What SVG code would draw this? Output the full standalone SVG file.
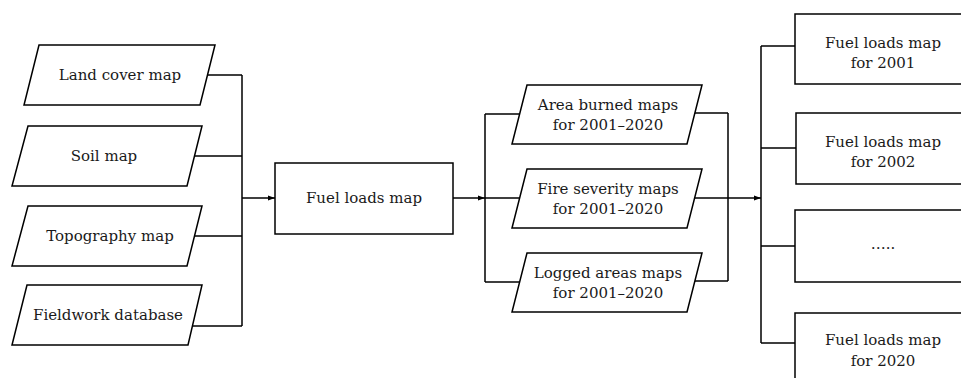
<svg xmlns="http://www.w3.org/2000/svg" width="961" height="378" viewBox="0 0 961 378">
<defs>
<marker id="arr" markerUnits="userSpaceOnUse" markerWidth="8" markerHeight="6" refX="7" refY="3" orient="auto">
<path d="M0,0.5 L7,3 L0,5.5 z" fill="#000"/>
</marker>
<style>
.shape{fill:#fff;stroke:#000;stroke-width:1.5}
.line{fill:none;stroke:#000;stroke-width:1.5}
text{font-family:"DejaVu Serif","Liberation Serif",serif;font-size:15px;fill:#1a1a1a;text-anchor:middle}
</style>
</defs>
<rect width="961" height="378" fill="#fff"/>
<g id="connectors">
<path class="line" d="M207,75 H242 M194,156 H242 M194,236 H242 M192,326 H242 M242,75 V326"/>
<path class="line" d="M242,198 H275" marker-end="url(#arr)"/>
<path class="line" d="M453,198 H485" marker-end="url(#arr)"/>
<path class="line" d="M485,114 V282 M485,114 H520 M485,198 H520 M485,282 H520"/>
<path class="line" d="M695,113 H728 M695,281 H728 M728,113 V281"/>
<path class="line" d="M695,198 H761" marker-end="url(#arr)"/>
<path class="line" d="M761,46 V343 M761,46 H795 M761,148 H796 M761,246 H795 M761,343 H795"/>
</g>
<g id="land-cover">
<polygon class="shape" points="39,45 215,45 200,105 24,105"/>
<text x="120" y="80">Land cover map</text>
</g>
<g id="soil">
<polygon class="shape" points="28,126 202,126 187,186 12,186"/>
<text x="104" y="161">Soil map</text>
</g>
<g id="topography">
<polygon class="shape" points="28,206 202,206 187,266 12,266"/>
<text x="110" y="241">Topography map</text>
</g>
<g id="fieldwork">
<polygon class="shape" points="27,285 202,285 188,345 12,345"/>
<text x="108" y="320">Fieldwork database</text>
</g>
<g id="fuel-loads">
<rect class="shape" x="275" y="163" width="178" height="71"/>
<text x="364" y="203">Fuel loads map</text>
</g>
<g id="area-burned">
<polygon class="shape" points="527,85 702,85 687,144 512,144"/>
<text x="608" y="110">Area burned maps</text>
<text x="608" y="130">for 2001–2020</text>
</g>
<g id="fire-severity">
<polygon class="shape" points="527,169 702,169 687,228 512,228"/>
<text x="608" y="194">Fire severity maps</text>
<text x="608" y="214">for 2001–2020</text>
</g>
<g id="logged-areas">
<polygon class="shape" points="527,253 702,253 687,312 512,312"/>
<text x="608" y="278">Logged areas maps</text>
<text x="608" y="298">for 2001–2020</text>
</g>
<g id="fuel-2001">
<rect class="shape" x="795" y="14" width="200" height="70"/>
<text x="883" y="48">Fuel loads map</text>
<text x="883" y="68">for 2001</text>
</g>
<g id="fuel-2002">
<rect class="shape" x="796" y="113" width="200" height="71"/>
<text x="883" y="147">Fuel loads map</text>
<text x="883" y="167">for 2002</text>
</g>
<g id="fuel-more">
<rect class="shape" x="795" y="210" width="200" height="72"/>
<text x="883" y="249">…..</text>
</g>
<g id="fuel-2020">
<rect class="shape" x="795" y="313" width="200" height="100"/>
<text x="883" y="345">Fuel loads map</text>
<text x="883" y="366">for 2020</text>
</g>
</svg>
